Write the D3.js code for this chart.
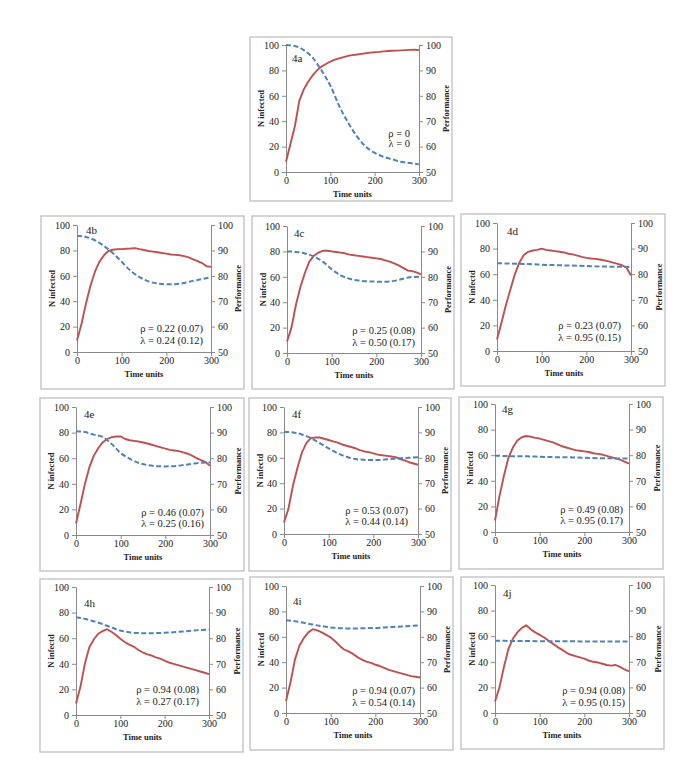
<!DOCTYPE html>
<html><head><meta charset="utf-8">
<script src="https://cdn.jsdelivr.net/npm/d3@7"></script>
<style>body{margin:0;background:#fff}</style>
</head><body>
<svg id="c" width="685" height="766"></svg>
<script>
// ---------- DATA ----------
const panelIds = ["4a","4b","4c","4d","4e","4f","4g","4h","4i","4j"];
const timeInfected = [0,10,20,30,40,50,60,70,80,90,100,110,120,130,140,150,160,170,180,190,200,210,220,230,240,250,260,270,280,290,300];
const timePerformance = [0,20,40,60,80,100,120,140,160,180,200,220,240,260,280,300];
const xTickValues = [0,100,200,300];
const leftTickValues = [0,20,40,60,80,100];
const rightTickValues = [50,60,70,80,90,100];

const infected4a = [8,22,36,56,65,71,76,80,83,85,87,88.5,89.5,90.5,91.5,92,92.5,93,93.5,94,94.3,94.6,95,95.3,95.5,95.6,95.8,96,96.2,96.3,96];
const infected4b = [9,22,38,52,63,71,76,79.5,80.5,81,81,81.3,81.5,81.8,81,80.3,79.5,79,78.5,78,77.5,76.8,76.5,76.2,75.5,74.5,73,71.5,70,67.5,67];
const infected4c = [9,20,38,52,63,72,76.5,79,80.5,80.5,80,79.5,79,78.5,77.5,77,76.5,76,75.5,75,74.5,74,73,72,70.5,69,67,65,64.5,63.5,62];
const infected4d = [9,22,36,48,60,69,75,77.5,78.5,79,80,79,78.5,78,77.5,77,76,75.5,74.5,73.5,72.8,72.3,72,71.5,70.8,70,69,68,67,65,59];
const infected4e = [9,24,40,53,62,68,72.5,75,76.5,77,77,75,74,73.5,73,72.3,71.5,70.5,69.5,68.5,67.5,66.5,66,65.5,64.5,63.5,62,60,58.5,57,54];
const infected4f = [9,20,38,52,64,71.5,75.5,76,76,75,74,73,72,70.5,69.5,68.5,67.5,66,65,64.5,63.5,62.5,62,61.5,61,60.5,59,58,56.5,55.5,54.5];
const infected4g = [9,28,44,58,66,71.5,74,75,74.5,73.5,73,72,71,70,68.5,67,66,65,64,63.5,63,62.5,61.5,61,60.5,59.5,58.5,57.5,56.5,55,53.5];
const infected4h = [9,22,40,53,59,63.5,65.5,67,65,62.5,59.5,57,55,53.5,51,49,47.5,46.5,45,44,42.5,41,40,39,38,37,36,35,34,33,32];
const infected4i = [9.5,24,42,53,59,63.5,66,65,63.5,61.5,59.5,56.5,53,50,48.5,46.5,44,42,40.5,39.5,38,37,35.5,34,33,32,31,30,29,28.5,28];
const infected4j = [9,20,36,50,58,63,66.5,68.5,65.5,63,61,59,56.5,54,51.5,49.5,47,45.5,44.5,43.5,42.5,41,40,39.5,38.5,37.5,37,37.5,36,34,32.5];

const performance4a = [100,99.6,98,95,90,84,76,69.5,64,60,57.5,56,55,54,53.5,53];
const performance4b = [95.8,95.3,94,91.8,89,85.5,82,79.5,77.8,77,76.7,76.7,77.2,78,78.7,79.5];
const performance4c = [90,89.8,89.2,88,86,83,80.6,79.2,78.5,78.2,78.1,78.1,78.4,79.2,79.9,80];
const performance4d = [84.3,84.2,84.1,84,83.9,83.7,83.6,83.5,83.4,83.3,83.2,83.1,83,82.9,82.9,82.8];
const performance4e = [90.5,90.2,89.2,88.3,85.5,82,79.8,78.2,77.3,76.9,76.8,76.9,77.3,77.8,78.2,78.3];
const performance4f = [90.2,90,89.2,87.8,85.8,83.7,81.8,80.4,79.5,79.2,79.1,79.2,79.5,79.8,80,80.2];
const performance4g = [79.8,79.7,79.6,79.6,79.5,79.4,79.3,79.2,79.2,79.1,79,78.9,78.8,78.8,78.7,78.7];
const performance4h = [88.2,87.6,86.6,85.5,84.2,83,82.3,82,81.9,82,82.1,82.3,82.6,82.9,83.2,83.4];
const performance4i = [86.5,86.1,85.5,84.8,84.2,83.7,83.4,83.3,83.3,83.4,83.5,83.7,83.9,84.1,84.3,84.5];
const performance4j = [78.2,78.2,78.1,78.1,78.1,78,78,78,78,78,77.9,77.9,77.9,77.9,77.9,77.9];

const rhoLabels = ["ρ = 0","ρ = 0.22 (0.07)","ρ = 0.25 (0.08)","ρ = 0.23 (0.07)","ρ = 0.46 (0.07)","ρ = 0.53 (0.07)","ρ = 0.49 (0.08)","ρ = 0.94 (0.08)","ρ = 0.94 (0.07)","ρ = 0.94 (0.08)"];
const lambdaLabels = ["λ = 0","λ = 0.24 (0.12)","λ = 0.50 (0.17)","λ = 0.95 (0.15)","λ = 0.25 (0.16)","λ = 0.44 (0.14)","λ = 0.95 (0.17)","λ = 0.27 (0.17)","λ = 0.54 (0.14)","λ = 0.95 (0.15)"];
const leftTitles = ["N infected","N infected","N infectd","N infectd","N infected","N infectd","N infectd","N infectd","N infectd","N infectd"];
const rightTitle = "Performance";
const xTitle = "Time units";

const infectedSeries = [infected4a,infected4b,infected4c,infected4d,infected4e,infected4f,infected4g,infected4h,infected4i,infected4j];
const performanceSeries = [performance4a,performance4b,performance4c,performance4d,performance4e,performance4f,performance4g,performance4h,performance4i,performance4j];

// ---------- LAYOUT (positions only) ----------
const layout = [
  {box:[250,37,202,164], plot:[286,45,133,127], labelDx:6, labelDy:17, ann:[30.5,22.5,9]},
  {box:[41,216,203,173], plot:[77,225,134,127], labelDx:9, labelDy:9, ann:[19,9.5,8]},
  {box:[252,216,202,173], plot:[287,226,134,127], labelDx:7, labelDy:11, ann:[17.5,8.5,6]},
  {box:[461,214,204,172], plot:[497,223,134,128], labelDx:10, labelDy:12, ann:[20,10.5,10]},
  {box:[40,398,204,173], plot:[76,407,134,128], labelDx:8, labelDy:11, ann:[18,9,6]},
  {box:[249,398,202,173], plot:[284,407,134,127], labelDx:8, labelDy:11, ann:[19,10,10]},
  {box:[459,397,204,172], plot:[495,404,134,128], labelDx:7, labelDy:9, ann:[18,9,6]},
  {box:[40,579,203,173], plot:[76,587,133,128], labelDx:8, labelDy:20, ann:[20,10.5,10]},
  {box:[250,577,203,173], plot:[286,586,134,127], labelDx:7, labelDy:19, ann:[18,8.5,5]},
  {box:[461,577,203,172], plot:[495,585,134,128], labelDx:8, labelDy:12, ann:[18,8.5,4]}
];

const serif = "'Liberation Serif','Times New Roman',serif";
const axisColor = "#8a8a8a";
const svg = d3.select("#c");

panelIds.forEach((id, i) => {
  const L = layout[i];
  const [bx,by,bw,bh] = L.box;
  const [px,py,pw,ph] = L.plot;
  const g = svg.append("g");

  g.append("rect").attr("x",bx).attr("y",by).attr("width",bw).attr("height",bh)
    .attr("fill","#fff").attr("stroke","#c4c4c4").attr("stroke-width",1.4);

  const x = d3.scaleLinear().domain([0,300]).range([px,px+pw]);
  const yL = d3.scaleLinear().domain([0,100]).range([py+ph,py]);
  const yR = d3.scaleLinear().domain([50,100]).range([py+ph,py]);

  const styleAxis = sel => {
    sel.selectAll("path.domain").attr("stroke",axisColor).attr("stroke-width",1);
    sel.selectAll(".tick line").attr("stroke",axisColor);
    sel.selectAll(".tick text").attr("fill","#222").attr("font-family",serif).attr("font-size",10);
  };

  g.append("g").attr("transform",`translate(${px},0)`)
    .call(d3.axisLeft(yL).tickValues(leftTickValues).tickSize(4).tickSizeOuter(0).tickPadding(3))
    .call(styleAxis);
  g.append("g").attr("transform",`translate(${px+pw},0)`)
    .call(d3.axisRight(yR).tickValues(rightTickValues).tickSize(4).tickSizeOuter(0).tickPadding(3))
    .call(styleAxis);
  g.append("g").attr("transform",`translate(0,${py+ph})`)
    .call(d3.axisBottom(x).tickValues(xTickValues).tickSize(4).tickSizeOuter(0).tickPadding(1))
    .call(styleAxis);

  const redLine = d3.line().x((d,k)=>x(timeInfected[k])).y(d=>yL(d));
  g.append("path").datum(infectedSeries[i]).attr("d",redLine)
    .attr("fill","none").attr("stroke","#c0504d").attr("stroke-width",1.9).attr("stroke-linejoin","round");

  const blueLine = d3.line().x((d,k)=>x(timePerformance[k])).y(d=>yR(d)).curve(d3.curveMonotoneX);
  g.append("path").datum(performanceSeries[i]).attr("d",blueLine)
    .attr("fill","none").attr("stroke","#4f81bd").attr("stroke-width",2).attr("stroke-dasharray","5,2.5");

  g.append("text").attr("x",px+L.labelDx).attr("y",py+L.labelDy)
    .attr("font-family",serif).attr("font-size",11).attr("fill","#222").text(id);

  const ax = px+pw-L.ann[2];
  g.append("text").attr("x",ax).attr("y",yL(L.ann[0])).attr("dy","0.35em").attr("text-anchor","end")
    .attr("font-family",serif).attr("font-size",10.5).attr("fill","#222").text(rhoLabels[i]);
  g.append("text").attr("x",ax).attr("y",yL(L.ann[1])).attr("dy","0.35em").attr("text-anchor","end")
    .attr("font-family",serif).attr("font-size",10.5).attr("fill","#222").text(lambdaLabels[i]);

  const midY = py+ph/2;
  g.append("text").attr("transform",`translate(${bx+11},${midY}) rotate(-90)`).attr("text-anchor","middle")
    .attr("dy","0.35em").attr("font-family",serif).attr("font-weight","bold").attr("font-size",8.5).attr("fill","#222")
    .text(leftTitles[i]);
  g.append("text").attr("transform",`translate(${bx+bw-6},${midY}) rotate(-90)`).attr("text-anchor","middle")
    .attr("dy","0.35em").attr("font-family",serif).attr("font-weight","bold").attr("font-size",8.5).attr("fill","#222")
    .text(rightTitle);
  g.append("text").attr("x",px+pw/2).attr("y",py+ph+25).attr("text-anchor","middle")
    .attr("font-family",serif).attr("font-weight","bold").attr("font-size",8.5).attr("fill","#222")
    .text(xTitle);
});
</script>
</body></html>
